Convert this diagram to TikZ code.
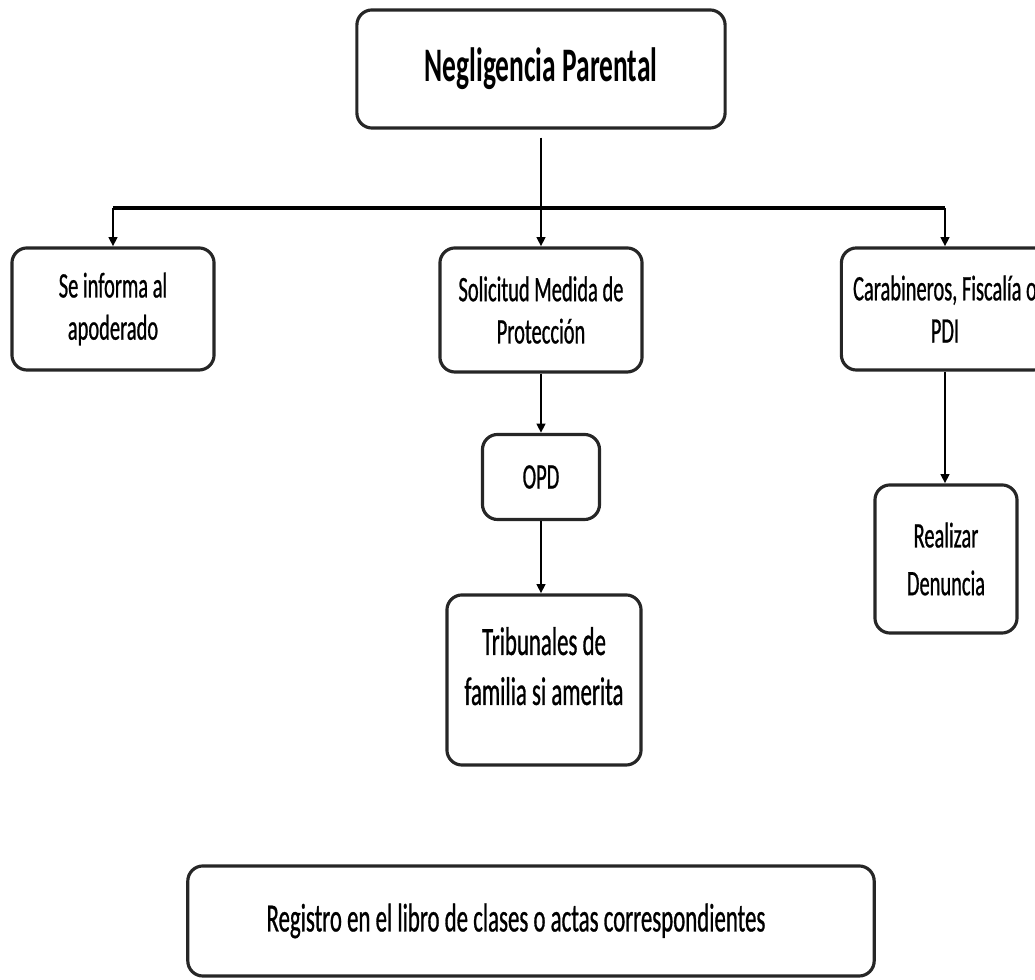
\documentclass[tikz,border=0pt]{standalone}
\usepackage{fontspec}
\setmainfont{Carlito}[FakeStretch=0.57,UprightFeatures={FakeBold=0.7}]
\usetikzlibrary{positioning,arrows.meta}

\begin{document}
\begin{tikzpicture}[x=0.01cm,y=-0.01cm,>={Triangle[length=2.6pt,width=2.4pt]},
    every node/.style={draw=black!85,line width=0.9pt,rounded corners=4.3pt,align=center,
      font=\fontsize{10.2}{12}\selectfont}]
  \useasboundingbox (0,0) rectangle (1035,980);
  \clip (0,0) rectangle (1035,980);

  \node[minimum width=3.68cm,minimum height=1.18cm,font=\fontsize{13.7}{16}\selectfont\bfseries] (neg) at (541,69) {Negligencia Parental};
  \node[minimum width=2.02cm,minimum height=1.22cm] (inf) at (113,309) {Se informa al\\apoderado};
  \node[minimum width=2.02cm,minimum height=1.24cm] (sol) at (541,310) {Solicitud Medida de\\Protección};
  \node[minimum width=2.00cm,minimum height=1.22cm] (car) at (945,309) {Carabineros, Fiscalía o\\PDI};
  \node[minimum width=1.17cm,minimum height=0.85cm] (opd) at (541,477) {OPD};
  \node[minimum width=1.94cm,minimum height=1.70cm,font=\fontsize{11.4}{14.2}\selectfont] (trib) at (544,680) {Tribunales de\\familia si amerita\\[-0.22cm]\mbox{}};
  \node[minimum width=1.42cm,minimum height=1.48cm,font=\fontsize{10.2}{13.6}\selectfont] (den) at (946,559) {Realizar\\Denuncia};
  \node[minimum width=6.86cm,minimum height=1.10cm,font=\fontsize{11.4}{13}\selectfont] (reg) at (531,921) {Registro en el libro de clases o actas correspondientes\hspace{0.3cm}\mbox{}};

  \coordinate (bar) at (541,208);
  \draw[line width=0.7pt,shorten <=0.08cm] (neg) -- (bar);
  \draw[line width=1.1pt] (inf |- bar) -- (car |- bar);
  \draw[->,line width=0.7pt] (inf |- bar) -- (inf);
  \draw[->,line width=0.7pt] (bar) -- (sol);
  \draw[->,line width=0.7pt] (car |- bar) -- (car);
  \draw[->,line width=0.7pt] (sol) -- (opd);
  \draw[->,line width=0.7pt] (opd.south) -- (opd.south |- trib.north);
  \draw[->,line width=0.7pt] (car) -- (car |- den.north);
\end{tikzpicture}
\end{document}
